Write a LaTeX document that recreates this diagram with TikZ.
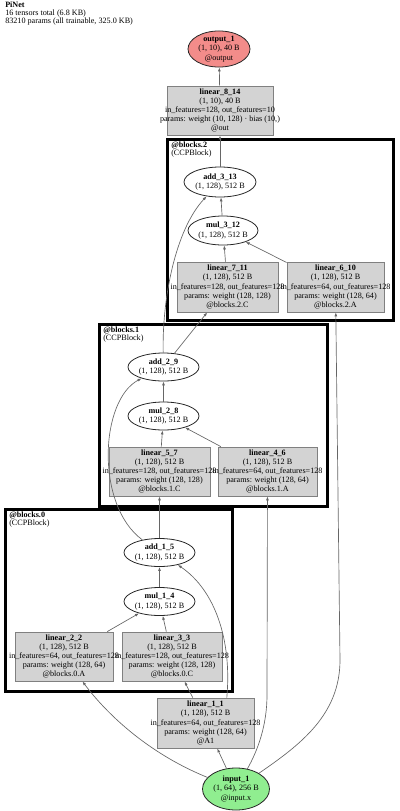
\documentclass[tikz,border=0pt]{standalone}
\usepackage{fontspec}
\setmainfont{Liberation Serif}
\usepackage{tikz}
\usetikzlibrary{shapes.geometric}
\usetikzlibrary{arrows.meta}

\definecolor{outred}{HTML}{F38C8A}
\definecolor{ingreen}{HTML}{90EE90}
\definecolor{modgray}{HTML}{D3D3D3}

\tikzset{
  tensor/.style 2 args={ellipse, draw=black!85, line width=0.6pt, inner sep=0pt, align=center,
    font=\fontsize{6.1}{6.9}\selectfont, minimum width=#1*0.75pt, minimum height=#2*0.75pt},
  module/.style 2 args={rectangle, draw=black!50, fill=modgray, line width=0.6pt, inner sep=0pt, align=center,
    font=\fontsize{6.1}{6.9}\selectfont, minimum width=#1*0.75pt, minimum height=#2*0.75pt},
  cluster/.style={draw=black, line width=2.25pt},
  flow/.style={draw=black!60, line width=0.5pt, -{Latex[length=3pt,width=2.2pt]}},
  tag/.style={inner sep=0pt, anchor=north west, align=left, font=\fontsize{6.1}{5.4}\selectfont}
}

\begin{document}
\begin{tikzpicture}[x=0.75pt,y=0.75pt,yscale=-1,xscale=1]
\useasboundingbox (0,0) rectangle (400,811);
% Text Node
\node[tag] (title) at (5,2) {\textbf{PiNet}\\16 tensors total (6.8 KB)\\83210 params (all trainable, 325.0 KB)};
%Shape: Rectangle
\draw[cluster] (5,509) rectangle (232,691);
\node[tag] (b0lbl) at (9,512) {\textbf{@blocks.0}\\(CCPBlock)};
%Shape: Rectangle
\draw[cluster] (99,324) rectangle (327,506);
\node[tag] (b1lbl) at (103,327) {\textbf{@blocks.1}\\(CCPBlock)};
%Shape: Rectangle
\draw[cluster] (167,139) rectangle (393,320);
\node[tag] (b2lbl) at (171,142) {\textbf{@blocks.2}\\(CCPBlock)};

% Text Node
\node[module={97}{50}] (l11) at (205.5,723) {\textbf{linear\_1\_1}\\(1, 128), 512 B\\\makebox[0pt]{in\_features=64, out\_features=128}\\params: weight (128, 64)\\@A1};
\node[module={98}{49}] (l22) at (64,656.5) {\textbf{linear\_2\_2}\\(1, 128), 512 B\\\makebox[0pt]{in\_features=64, out\_features=128}\\params: weight (128, 64)\\@blocks.0.A};
\node[module={100}{49}] (l33) at (172,656.5) {\textbf{linear\_3\_3}\\(1, 128), 512 B\\\makebox[0pt]{in\_features=128, out\_features=128}\\params: weight (128, 128)\\@blocks.0.C};
\node[tensor={71}{28}] (m14) at (159.5,601.5) {\textbf{mul\_1\_4}\\(1, 128), 512 B};
\node[tensor={71}{28}] (a15) at (159.5,552.5) {\textbf{add\_1\_5}\\(1, 128), 512 B};
\node[module={99}{49}] (l46) at (267.5,471.5) {\textbf{linear\_4\_6}\\(1, 128), 512 B\\\makebox[0pt]{in\_features=64, out\_features=128}\\params: weight (128, 64)\\@blocks.1.A};
\node[module={101}{49}] (l57) at (159.5,471.5) {\textbf{linear\_5\_7}\\(1, 128), 512 B\\\makebox[0pt]{in\_features=128, out\_features=128}\\params: weight (128, 128)\\@blocks.1.C};
\node[tensor={71}{28}] (m28) at (163.5,416) {\textbf{mul\_2\_8}\\(1, 128), 512 B};
\node[tensor={71}{28}] (a29) at (163.5,367) {\textbf{add\_2\_9}\\(1, 128), 512 B};
\node[module={97}{50}] (l610) at (335.5,287) {\textbf{linear\_6\_10}\\(1, 128), 512 B\\\makebox[0pt]{in\_features=64, out\_features=128}\\params: weight (128, 64)\\@blocks.2.A};
\node[module={101}{50}] (l711) at (227.5,287) {\textbf{linear\_7\_11}\\(1, 128), 512 B\\\makebox[0pt]{in\_features=128, out\_features=128}\\params: weight (128, 128)\\@blocks.2.C};
\node[tensor={62}{29}] (m312) at (223,230.5) {\textbf{mul\_3\_12}\\(1, 128), 512 B};
\node[tensor={72}{30}] (a313) at (220,182) {\textbf{add\_3\_13}\\(1, 128), 512 B};
\node[module={106}{49}] (l814) at (220,110.5) {\textbf{linear\_8\_14}\\(1, 10), 40 B\\\makebox[0pt]{in\_features=128, out\_features=10}\\\makebox[0pt]{params: weight (10, 128) · bias (10,)}\\@out};
\node[tensor={62}{36}, fill=outred] (out1) at (219,49) {\textbf{output\_1}\\(1, 10), 40 B\\@output};
\node[tensor={67}{42}, fill=ingreen] (in1) at (236,789) {\textbf{input\_1}\\(1, 64), 256 B\\@input.x};

%Straight Lines
\draw[flow] (in1) -- (l11);
\draw[flow] (in1) .. controls (140,750) and (100,705) .. (l22);
\draw[flow] (in1) .. controls (258,750) and (267,725) .. (267,695) -- (l46);
\draw[flow] (in1) .. controls (300,745) and (340,715) .. (340,660) -- (l610);
\draw[flow] (l11) -- (l33);
\draw[flow] (l11.50) .. controls (232,640) and (215,590) .. (a15);
\draw[flow] (l22) -- (m14);
\draw[flow] (l33) -- (m14);
\draw[flow] (m14) -- (a15);
\draw[flow] (a15) -- (l57);
\draw[flow] (a15) .. controls (95,505) and (100,400) .. (a29);
\draw[flow] (l46) -- (m28);
\draw[flow] (l57) -- (m28);
\draw[flow] (m28) -- (a29);
\draw[flow] (a29) -- (l711);
\draw[flow] (a29) .. controls (162,300) and (175,230) .. (a313);
\draw[flow] (l610) -- (m312);
\draw[flow] (l711) -- (m312);
\draw[flow] (m312) -- (a313);
\draw[flow] (a313) -- (l814);
\draw[flow] (l814) -- (out1);
\end{tikzpicture}
\end{document}
